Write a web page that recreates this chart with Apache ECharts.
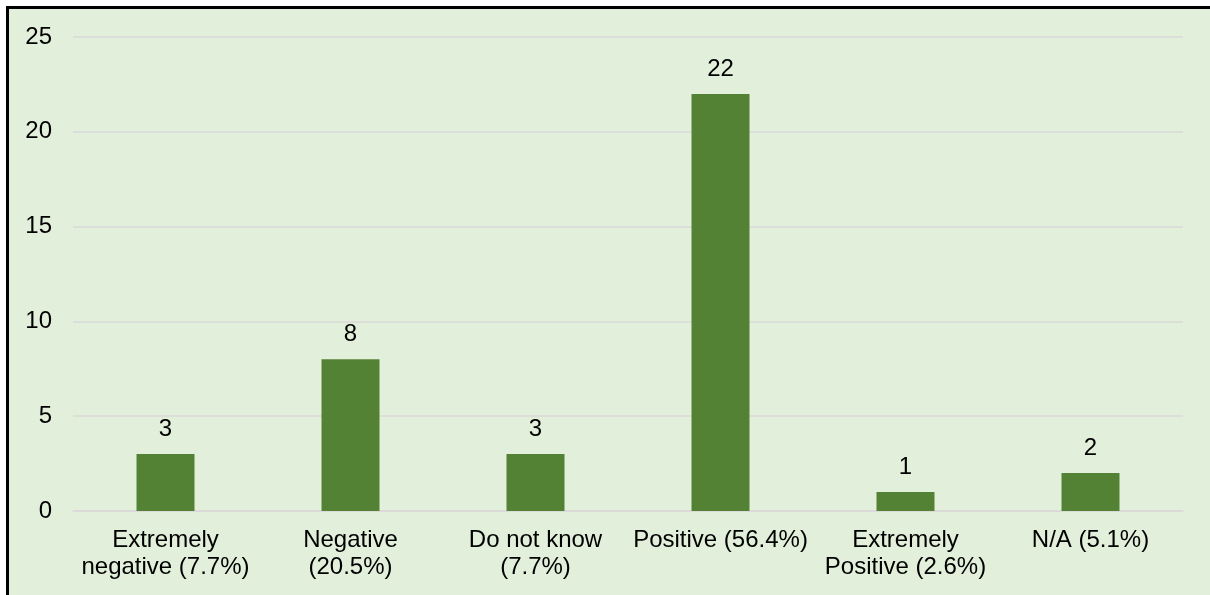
<!DOCTYPE html>
<html>
<head>
<meta charset="utf-8">
<script src="https://cdn.jsdelivr.net/npm/echarts@6/dist/echarts.min.js"></script>
<style>
  html, body { margin: 0; padding: 0; background: #ffffff; overflow: hidden; }
  #frame {
    position: absolute; left: 6px; top: 6px; width: 1240px; height: 620px;
    border-left: 3px solid #000; border-top: 3px solid #000;
    background: #e2efda;
  }
  #chart { position: absolute; left: 0; top: 0; width: 1210px; height: 595px; }
</style>
</head>
<body>
<div id="frame"></div>
<div id="chart"></div>
<script>
// Response categories and counts
const categories = [
  'Extremely\nnegative (7.7%)',
  'Negative\n(20.5%)',
  'Do not know\n(7.7%)',
  'Positive (56.4%)',
  'Extremely\nPositive (2.6%)',
  'N/A (5.1%)'
];
const counts = [3, 8, 3, 22, 1, 2];
const yTicks = { min: 0, max: 25, interval: 5 };

const fontFamily = '"Liberation Sans", Arial, sans-serif';

const chart = echarts.init(document.getElementById('chart'), null, { renderer: 'canvas' });
chart.setOption({
  backgroundColor: 'transparent',
  animation: false,
  grid: { left: 73, right: 27, top: 37, bottom: 84, containLabel: false },
  xAxis: {
    type: 'category',
    data: categories,
    axisLine: { show: true, lineStyle: { color: '#d9d9d9', width: 1.5 } },
    axisTick: { show: false },
    axisLabel: {
      interval: 0,
      margin: 16,
      color: '#000',
      fontSize: 24,
      lineHeight: 27,
      fontFamily: fontFamily
    }
  },
  yAxis: {
    type: 'value',
    min: yTicks.min,
    max: yTicks.max,
    interval: yTicks.interval,
    axisLine: { show: false },
    axisTick: { show: false },
    splitLine: { lineStyle: { color: '#d9d9d9', width: 1.5 } },
    axisLabel: { margin: 21, color: '#000', fontSize: 24, fontFamily: fontFamily }
  },
  series: [{
    type: 'bar',
    data: counts,
    barWidth: 58,
    itemStyle: { color: '#548235' },
    label: {
      show: true,
      position: 'top',
      distance: 13,
      color: '#000',
      fontSize: 24,
      fontFamily: fontFamily
    }
  }]
});
</script>
</body>
</html>
